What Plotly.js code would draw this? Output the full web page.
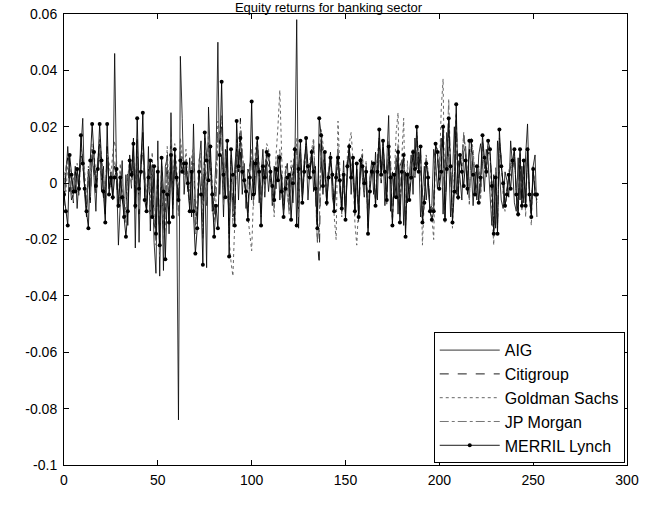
<!DOCTYPE html>
<html>
<head>
<meta charset="utf-8">
<script src="https://cdn.plot.ly/plotly-3.0.1.min.js"></script>
<style>html,body{margin:0;padding:0;background:#fff;}#chart{width:657px;height:508px;}</style>
</head>
<body>
<div id="chart"></div>
<script>
// Daily equity returns (index 0..252)
const AIG = [
-0.008,0.004,0.013,0.002,-0.006,-0.004,0.006,-0.009,0.003,0.012,
0.023,-0.004,-0.012,0.005,-0.007,0.010,0.002,-0.010,0.008,0.014,
-0.003,0.006,-0.011,0.009,-0.002,0.004,-0.006,0.046,0.003,-0.022,
-0.004,0.008,-0.012,0.003,-0.015,0.010,0.002,0.016,-0.023,0.012,
-0.021,0.009,0.018,0.005,-0.010,0.013,-0.017,0.004,-0.021,-0.032,
0.015,-0.033,0.003,-0.031,0.006,0.009,-0.018,0.025,-0.006,0.010,
-0.002,-0.084,0.045,0.023,-0.004,0.006,-0.003,0.009,-0.012,0.021,
-0.008,-0.013,0.007,0.015,-0.006,0.004,-0.030,0.027,0.006,-0.010,
-0.005,0.008,0.050,-0.004,0.010,-0.012,0.012,0.004,-0.015,0.002,
-0.010,0.006,0.013,-0.006,0.011,-0.004,0.007,-0.009,0.005,0.003,
-0.006,0.008,-0.004,0.009,-0.007,0.004,0.012,-0.005,0.007,-0.003,
0.005,-0.008,0.006,-0.002,0.010,-0.006,0.003,-0.009,0.004,0.007,
-0.005,0.002,-0.007,0.006,0.058,-0.016,0.011,-0.004,0.008,0.013,
-0.006,0.005,0.012,-0.003,0.006,-0.011,0.014,0.009,-0.004,0.007,
-0.008,0.004,0.011,-0.005,-0.009,0.006,0.010,-0.003,-0.007,0.008,
-0.010,0.003,0.014,-0.004,0.007,-0.008,0.005,-0.011,0.009,0.002,
-0.005,0.006,-0.013,0.002,0.008,-0.004,0.011,-0.006,0.015,0.003,
0.012,-0.008,0.006,0.024,-0.010,0.004,-0.005,0.009,-0.011,0.006,
0.008,-0.015,0.004,-0.007,0.003,0.010,-0.004,0.016,0.005,0.011,
-0.012,-0.003,0.006,-0.006,0.002,-0.010,-0.008,0.012,0.008,-0.002,
0.005,0.016,-0.011,0.004,0.018,0.009,-0.012,0.003,0.020,-0.004,
0.008,0.002,-0.006,0.011,0.013,-0.004,0.012,0.006,-0.008,0.004,
-0.006,0.010,0.014,0.007,-0.003,0.012,0.008,-0.004,-0.015,0.003,
-0.016,0.015,0.005,-0.006,-0.009,0.004,0.001,-0.005,0.015,0.006,
-0.007,-0.010,0.009,-0.006,0.006,-0.007,0.010,0.021,-0.003,-0.010,
0.006,0.010,-0.012];

const CITIGROUP = [
-0.006,0.005,0.009,-0.003,0.002,-0.007,0.004,0.001,-0.005,0.010,
0.008,-0.002,-0.009,0.003,-0.006,0.012,0.006,-0.004,0.003,0.011,
0.002,-0.005,-0.008,0.013,0.000,-0.003,0.004,0.006,0.001,-0.010,
0.003,-0.006,-0.008,-0.012,0.005,0.007,-0.002,0.010,-0.009,0.015,
-0.011,0.006,0.012,-0.004,-0.008,0.005,-0.012,0.008,-0.014,-0.020,
0.006,-0.024,0.004,-0.018,-0.012,0.010,-0.010,0.014,-0.008,0.009,
0.002,-0.010,0.012,0.005,0.003,0.008,-0.002,-0.006,0.006,0.010,
-0.015,-0.010,0.005,0.008,-0.018,0.012,-0.008,0.015,0.004,-0.006,
-0.012,-0.003,0.018,0.014,0.020,-0.006,0.006,0.010,-0.018,0.008,
-0.012,-0.009,0.012,0.004,0.023,0.008,0.003,-0.004,-0.010,0.006,
0.010,-0.006,0.004,0.012,0.002,-0.009,0.005,-0.002,0.008,0.006,
0.001,-0.004,-0.008,0.006,0.004,0.010,-0.002,-0.008,0.003,-0.003,
-0.009,0.006,0.002,0.010,0.012,-0.010,0.009,-0.004,0.006,0.011,
0.002,0.005,0.008,0.013,-0.003,-0.020,-0.029,0.016,0.010,0.004,
-0.005,0.006,0.008,-0.001,-0.008,0.004,0.012,-0.002,-0.010,0.005,
-0.009,0.008,0.010,0.004,0.006,-0.012,0.005,-0.014,0.004,0.010,
-0.003,0.006,-0.015,0.001,0.005,0.004,-0.006,0.008,0.014,0.000,
0.012,0.002,-0.004,0.010,0.006,-0.012,0.001,0.004,0.012,-0.010,
0.006,0.008,-0.014,0.005,-0.003,0.006,0.009,0.002,0.015,0.006,
0.010,-0.011,-0.004,0.008,0.003,-0.008,-0.010,-0.006,0.011,0.009,
0.001,0.006,0.017,-0.010,0.008,0.019,0.004,-0.011,0.002,0.022,
-0.003,0.008,0.006,0.017,0.010,0.002,-0.005,0.012,0.010,0.001,
-0.002,0.004,-0.004,0.013,0.006,0.002,0.011,0.009,0.001,-0.014,
0.004,-0.014,0.014,0.008,-0.002,-0.006,-0.002,0.002,0.006,0.004,
0.010,-0.003,-0.008,0.009,-0.005,0.006,-0.006,0.010,-0.002,-0.009,
0.004,-0.002,-0.006];

const GOLDMAN_SACHS = [
0.004,-0.003,0.006,0.008,-0.004,0.002,-0.002,0.007,0.000,0.012,
0.010,0.004,-0.006,0.006,-0.003,0.014,0.011,0.002,0.008,0.016,
0.009,0.003,-0.004,0.012,0.006,0.002,0.011,0.015,0.008,-0.006,
0.007,-0.002,-0.006,-0.010,0.002,0.009,0.004,0.012,-0.005,0.016,
-0.008,0.010,0.014,0.002,-0.006,0.008,-0.010,0.011,-0.012,-0.016,
0.008,-0.020,0.007,-0.014,-0.008,0.013,-0.006,0.017,-0.004,0.014,
0.006,-0.006,0.016,0.010,0.004,0.012,0.001,-0.003,0.009,0.013,
-0.012,-0.006,0.009,0.011,-0.014,0.016,-0.005,0.019,0.008,-0.002,
-0.010,0.002,0.022,0.017,0.024,-0.004,0.009,0.013,-0.020,-0.028,
-0.033,-0.014,0.016,0.008,0.018,0.011,0.004,-0.002,-0.012,-0.018,
-0.024,-0.004,0.012,0.015,0.006,-0.012,0.009,0.003,0.014,0.012,
0.006,-0.002,-0.012,0.010,0.020,0.033,0.010,-0.010,0.006,0.000,
-0.010,0.008,0.005,0.013,0.016,-0.012,0.012,-0.006,0.008,0.014,
0.004,0.008,0.012,0.016,0.000,-0.014,-0.018,0.019,0.014,0.006,
-0.008,0.004,0.010,0.002,-0.012,-0.020,0.022,0.004,-0.012,0.002,
-0.012,0.010,0.014,0.018,0.008,-0.014,-0.022,-0.010,0.006,0.012,
-0.002,0.008,-0.016,0.002,0.007,0.006,-0.008,0.010,0.016,0.002,
0.014,0.004,-0.008,0.015,0.009,-0.014,0.003,0.018,0.025,-0.012,
0.009,0.023,-0.016,0.008,-0.006,0.008,0.012,0.004,0.018,0.008,
0.011,-0.022,-0.006,0.010,0.004,-0.010,-0.012,-0.020,0.014,0.012,
0.003,0.026,0.037,-0.014,0.010,0.020,0.005,-0.016,0.004,0.025,
-0.006,0.010,0.008,0.018,0.012,0.004,-0.008,0.016,0.012,0.002,
-0.004,0.006,-0.006,0.015,0.008,0.004,0.013,0.010,-0.010,-0.022,
0.006,-0.016,0.016,0.009,-0.004,-0.010,-0.004,0.004,0.008,0.006,
0.012,-0.005,-0.012,0.011,-0.010,0.008,-0.012,0.012,-0.004,-0.015,
0.006,-0.001,-0.005];

const JP_MORGAN = [
-0.002,0.006,0.008,0.001,-0.002,-0.005,0.003,0.002,-0.004,0.009,
0.006,0.000,-0.008,0.002,-0.005,0.011,0.008,-0.002,0.005,0.012,
0.004,-0.002,-0.010,0.010,0.002,-0.001,0.003,0.008,0.004,-0.008,
0.004,-0.004,-0.010,-0.014,0.003,0.006,0.000,0.011,-0.007,0.014,
-0.009,0.008,0.014,-0.002,-0.007,0.004,-0.011,0.006,-0.015,-0.022,
0.008,-0.026,0.006,-0.020,-0.016,0.008,-0.012,0.012,-0.009,0.010,
0.000,-0.012,0.014,0.006,0.002,0.009,-0.003,-0.008,0.005,0.012,
-0.018,-0.012,0.004,0.010,-0.020,0.014,-0.006,0.014,0.006,-0.008,
-0.014,-0.006,0.016,0.012,0.018,-0.008,0.004,0.012,-0.016,0.010,
-0.016,-0.010,0.014,0.006,0.020,0.009,0.002,-0.006,-0.011,0.004,
0.012,-0.008,0.006,0.014,0.003,-0.011,0.007,-0.003,0.010,0.008,
0.003,-0.006,-0.009,0.008,0.006,0.012,-0.004,-0.010,0.002,-0.004,
-0.011,0.004,0.001,0.012,0.014,-0.012,0.011,-0.006,0.005,0.013,
0.003,0.006,0.010,0.015,-0.004,-0.021,-0.016,0.018,0.012,0.002,
-0.006,0.005,0.010,0.000,-0.009,0.002,0.014,-0.003,-0.011,0.004,
-0.011,0.007,0.012,0.006,0.008,-0.011,0.003,-0.013,0.005,0.009,
-0.004,0.005,-0.016,0.000,0.006,0.003,-0.007,0.006,0.016,0.001,
0.013,0.003,-0.006,0.012,0.008,-0.013,0.002,0.006,0.014,-0.011,
0.007,0.010,-0.016,0.004,-0.004,0.005,0.010,0.003,0.017,0.007,
0.012,-0.013,-0.005,0.009,0.004,-0.009,-0.011,-0.008,0.012,0.010,
0.002,0.010,0.019,-0.012,0.009,0.030,0.006,-0.012,0.003,0.024,
-0.004,0.009,0.007,0.017,0.011,0.003,-0.006,0.014,0.011,0.000,
-0.003,0.005,-0.005,0.014,0.007,0.003,0.012,0.010,0.000,-0.016,
0.005,-0.015,0.015,0.010,-0.003,-0.008,-0.003,0.003,0.007,0.005,
0.011,-0.004,-0.010,0.010,-0.006,0.007,-0.008,0.011,-0.003,-0.011,
0.005,-0.003,-0.007];

const MERRIL_LYNCH = [
-0.004,-0.010,-0.015,0.010,0.003,-0.003,-0.003,0.005,-0.002,0.017,
0.007,-0.002,-0.010,-0.016,0.008,0.021,0.011,-0.001,0.005,0.021,
0.008,-0.003,-0.014,0.021,-0.004,0.002,-0.005,0.002,0.005,-0.008,
0.002,-0.005,-0.012,-0.019,-0.010,0.008,0.003,0.014,-0.008,0.023,
-0.002,0.004,0.025,-0.006,-0.010,0.002,0.008,-0.012,0.006,-0.018,
0.004,-0.022,0.009,-0.003,-0.027,-0.004,-0.014,0.010,-0.012,0.012,
0.002,-0.006,0.008,0.004,0.007,0.007,0.000,-0.010,0.004,-0.010,
-0.025,-0.016,0.004,-0.004,-0.029,0.018,0.008,0.001,0.013,-0.004,
-0.019,-0.008,-0.016,0.010,0.036,0.003,-0.005,0.015,-0.026,0.012,
0.003,-0.015,0.022,0.006,0.016,0.004,0.001,-0.003,-0.013,0.002,
0.029,-0.004,0.007,0.016,0.004,-0.015,0.006,0.002,0.011,0.010,
0.004,-0.001,-0.006,0.005,0.001,0.009,-0.003,-0.012,-0.002,0.002,
0.003,-0.013,0.000,0.012,-0.015,0.005,0.015,-0.007,0.004,0.016,
0.006,0.002,0.011,0.004,-0.002,-0.016,0.023,0.017,-0.001,0.011,
-0.007,0.002,0.009,0.003,-0.010,0.002,0.009,0.001,-0.009,0.003,
-0.013,0.006,0.013,0.002,0.009,-0.010,0.007,-0.012,0.008,0.006,
0.000,0.004,-0.018,-0.003,0.004,0.007,-0.008,0.004,0.019,0.003,
0.015,0.004,-0.006,0.013,0.002,-0.015,0.003,-0.005,0.011,-0.014,
0.004,0.010,-0.019,0.003,-0.006,0.002,0.011,0.005,0.020,0.004,
0.013,-0.014,-0.007,0.007,0.002,-0.010,-0.013,-0.010,0.014,0.011,
-0.002,0.004,0.020,-0.013,0.005,0.023,0.006,-0.014,-0.003,0.028,
-0.005,0.010,0.004,-0.001,0.008,-0.002,0.015,0.015,0.003,-0.004,
0.006,-0.007,0.002,0.017,0.009,0.004,0.015,0.012,-0.001,-0.018,
0.002,-0.018,0.019,0.006,0.000,-0.008,-0.004,0.003,-0.002,0.008,
0.012,-0.004,-0.011,0.012,-0.008,0.008,-0.008,0.012,-0.004,-0.012,
0.005,-0.004,-0.004];

const SERIES_NAMES = ['AIG', 'Citigroup', 'Goldman Sachs', 'JP Morgan', 'MERRIL Lynch'];
const X_TICKS = [0, 50, 100, 150, 200, 250, 300];
const X_TICK_LABELS = ['0', '50', '100', '150', '200', '250', '300'];
const Y_TICKS = [-0.1, -0.08, -0.06, -0.04, -0.02, 0, 0.02, 0.04, 0.06];
const Y_TICK_LABELS = ['-0.1', '-0.08', '-0.06', '-0.04', '-0.02', '0', '0.02', '0.04', '0.06'];

const FONT = 'Liberation Sans, Arial, Helvetica, sans-serif';

const traces = [
  {y: AIG, name: SERIES_NAMES[0], mode: 'lines', line: {color: '#000', width: 0.8}},
  {y: CITIGROUP, name: SERIES_NAMES[1], mode: 'lines', line: {color: '#000', width: 0.9, dash: 'dash'}},
  {y: GOLDMAN_SACHS, name: SERIES_NAMES[2], mode: 'lines', line: {color: '#555', width: 0.9, dash: 'dot'}},
  {y: JP_MORGAN, name: SERIES_NAMES[3], mode: 'lines', line: {color: '#666', width: 0.9, dash: 'dashdot'}},
  {y: MERRIL_LYNCH, name: SERIES_NAMES[4], mode: 'lines+markers', line: {color: '#000', width: 0.9}, marker: {color: '#000', size: 4}}
];

const axisCommon = {
  showline: true, linecolor: '#000', linewidth: 1, mirror: 'ticks',
  ticks: 'inside', ticklen: 5, tickcolor: '#000', tickwidth: 1,
  showgrid: false, zeroline: false,
  tickfont: {family: FONT, size: 14, color: '#000'}
};

const layout = {
  width: 657, height: 508,
  margin: {l: 64, r: 30, t: 14, b: 43},
  paper_bgcolor: '#fff', plot_bgcolor: '#fff',
  title: {text: 'Equity returns for banking sector', font: {family: FONT, size: 13, color: '#000'},
          x: 0.5, xref: 'container', y: 1 - 7.5 / 508, yref: 'container', yanchor: 'middle'},
  xaxis: Object.assign({}, axisCommon, {range: [0, 300], tickmode: 'array', tickvals: X_TICKS, ticktext: X_TICK_LABELS, ticklabelstandoff: 2}),
  yaxis: Object.assign({}, axisCommon, {range: [-0.1, 0.06], tickmode: 'array', tickvals: Y_TICKS, ticktext: Y_TICK_LABELS, ticklabelstandoff: 3}),
  showlegend: true,
  legend: {x: 0.996, y: 0.004, xanchor: 'right', yanchor: 'bottom', bgcolor: '#fff',
           bordercolor: '#000', borderwidth: 1, font: {family: FONT, size: 16, color: '#000'},
           tracegroupgap: 0, itemwidth: 60}
};

Plotly.newPlot('chart', traces, layout, {displayModeBar: false, staticPlot: true});
</script>
</body>
</html>
